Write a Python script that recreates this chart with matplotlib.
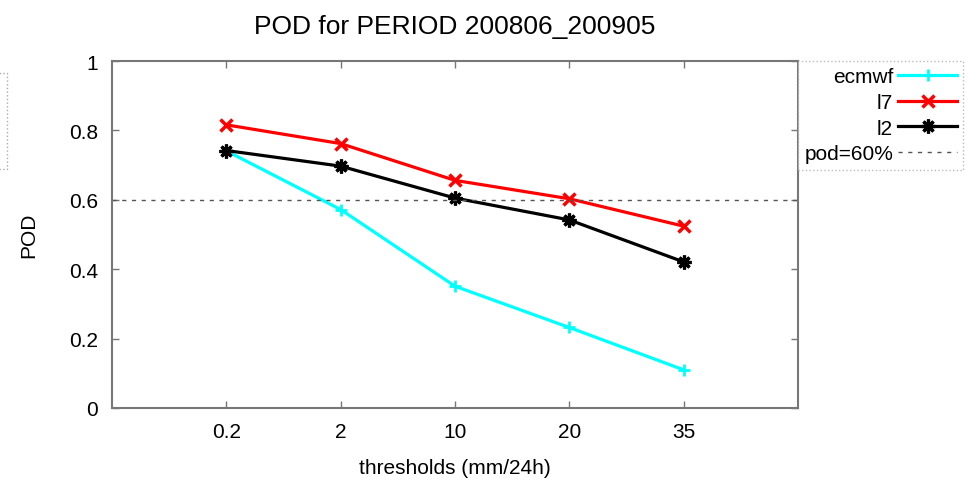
import numpy as np
import matplotlib.pyplot as plt
from matplotlib.patches import Rectangle

# dados
thresholds = ["0.2", "2", "10", "20", "35"]
ecmwf = [0.741, 0.572, 0.351, 0.232, 0.110]
l7 = [0.816, 0.762, 0.656, 0.603, 0.524]
l2 = [0.742, 0.697, 0.605, 0.542, 0.421]
pod_ref = 0.6

plt.rcParams['font.family'] = ['Liberation Sans', 'DejaVu Sans']

fig = plt.figure(figsize=(9.65, 4.85), dpi=100)
ax = fig.add_axes([112 / 965, 1 - 409 / 485, 686 / 965, 347 / 485])

x = np.arange(1, len(thresholds) + 1)
ax.plot(x, ecmwf, color='cyan', lw=2.3, marker='+', ms=9, mew=2, label='ecmwf')
ax.plot(x, l7, color='red', lw=2.3, marker='x', ms=8, mew=2.5, label='l7')
ax.plot(x, l2, color='black', lw=2.3, marker=(8, 2, 0), ms=10, mew=2.3, label='l2')
ax.axhline(pod_ref, color='#555555', lw=1, ls=(0, (3, 4)), label='pod=60%')

ax.set_xlim(0, len(thresholds) + 1)
ax.set_ylim(0, 1)
ax.set_xticks(x)
ax.set_xticklabels(thresholds)
ax.set_yticks(np.arange(0, 1.01, 0.2))
ax.set_yticklabels(['0', '0.2', '0.4', '0.6', '0.8', '1'])
ax.tick_params(direction='in', top=True, right=True, length=5, width=1,
               color='#777777', labelsize=15, pad=10)
for s in ax.spines.values():
    s.set_color('#777777')
    s.set_linewidth(1.5)

ax.set_xlabel('thresholds (mm/24h)', fontsize=15, labelpad=12)
ax.set_ylabel('POD', fontsize=15, labelpad=22)
ax.set_title('POD for PERIOD 200806_200905', fontsize=19, pad=20)

leg = ax.legend(loc='upper left', bbox_to_anchor=(1.0, 1.0), borderaxespad=0,
                markerfirst=False, fontsize=15, handlelength=2.8,
                labelspacing=0.32, fancybox=False, borderpad=0.3,
                handletextpad=0.25)
for t in leg.get_texts():
    t.set_ha('right')
leg.get_frame().set_edgecolor('#aaaaaa')
leg.get_frame().set_linestyle(':')
leg.get_frame().set_linewidth(1)

# caixa pontilhada cortada na borda esquerda
fig.patches.append(Rectangle((-10 / 965, 1 - 170 / 485), 17 / 965, 96 / 485,
                             transform=fig.transFigure, fill=False,
                             edgecolor='#aaaaaa', ls=':', lw=1))

fig.savefig('out.png', dpi=100)
